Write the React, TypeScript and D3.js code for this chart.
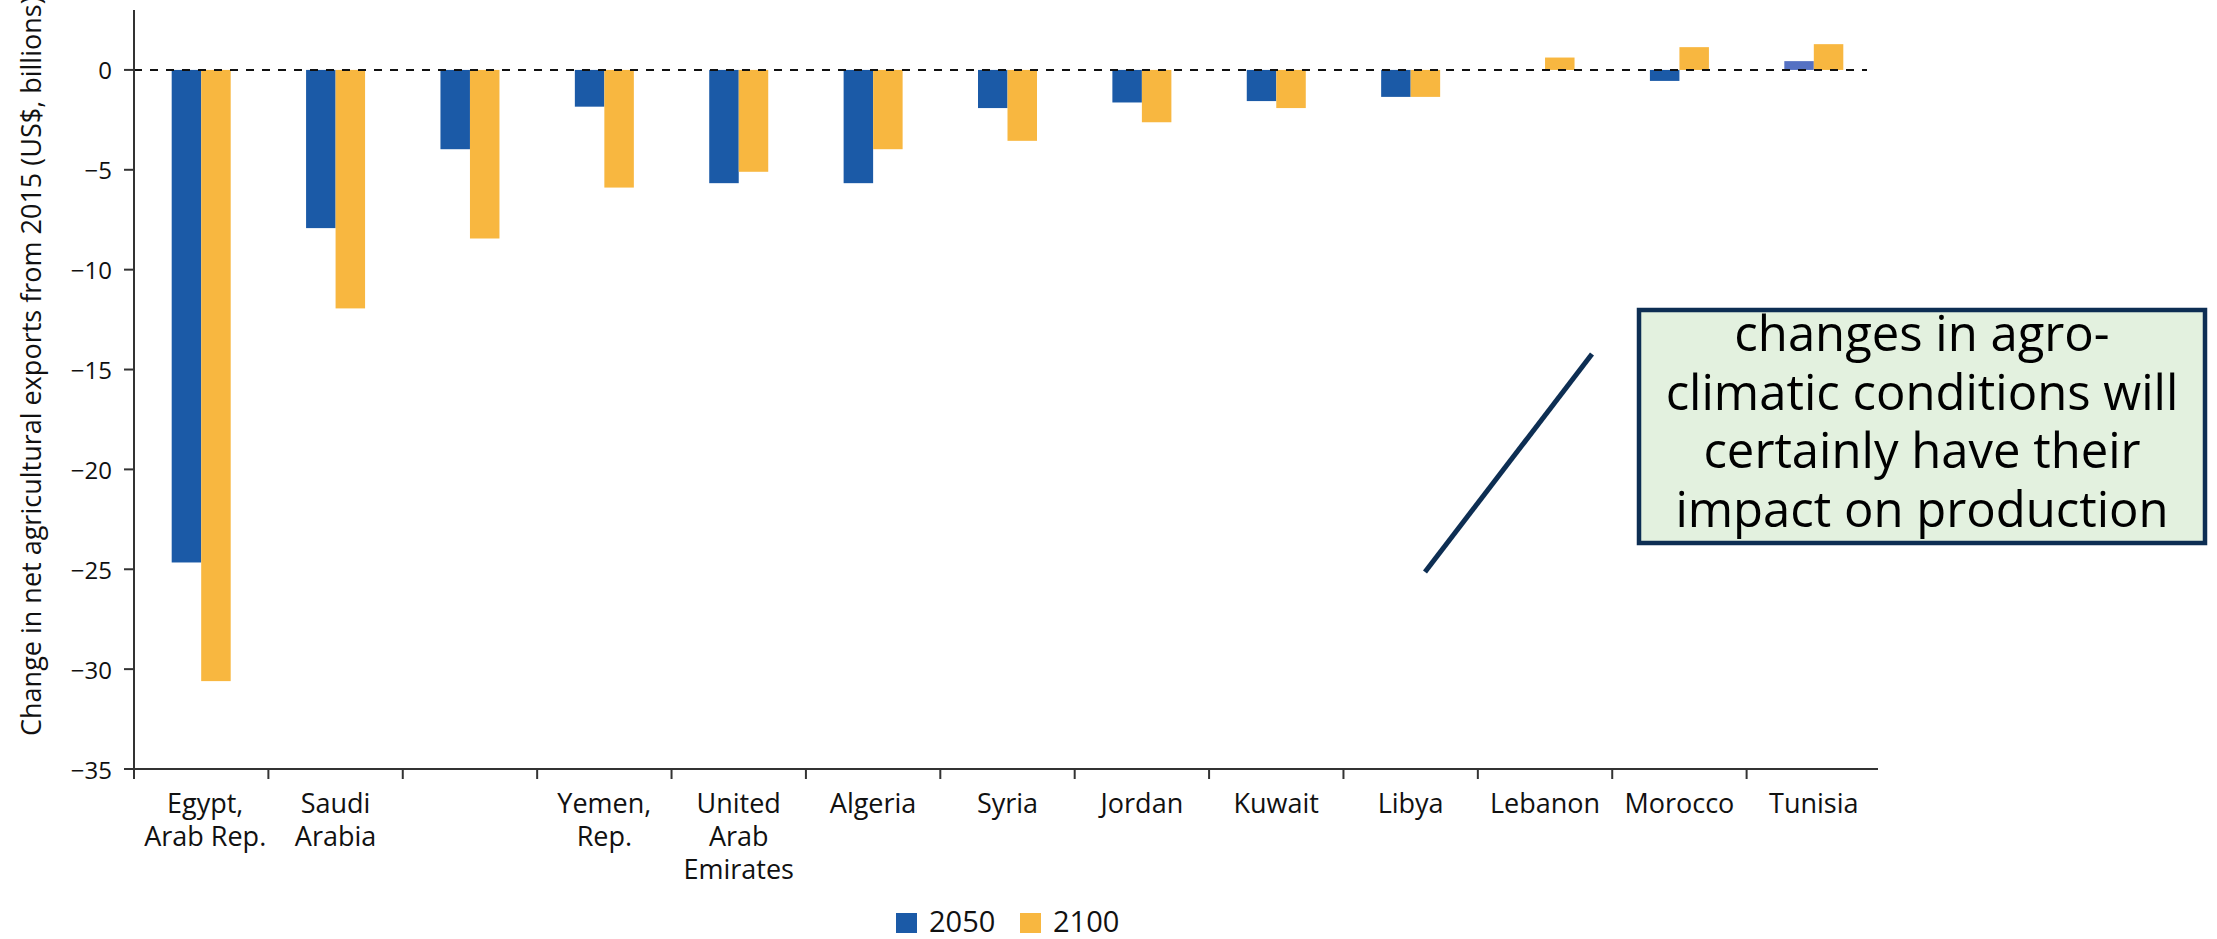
import React from "react";
import * as d3 from "d3";

const categories: string[][] = [
  ["Egypt,", "Arab Rep."],
  ["Saudi", "Arabia"],
  [""],
  ["Yemen,", "Rep."],
  ["United", "Arab", "Emirates"],
  ["Algeria"],
  ["Syria"],
  ["Jordan"],
  ["Kuwait"],
  ["Libya"],
  ["Lebanon"],
  ["Morocco"],
  ["Tunisia"],
];

const series = ["2050", "2100"];
const values2050 = [-24.66, -7.92, -3.97, -1.84, -5.67, -5.67, -1.91, -1.63, -1.56, -1.35, 0, -0.55, 0.44];
const values2100 = [-30.6, -11.94, -8.44, -5.89, -5.1, -3.97, -3.55, -2.62, -1.91, -1.35, 0.62, 1.14, 1.29];
const yTicks = [0, -5, -10, -15, -20, -25, -30, -35];

const calloutLines = [
  "changes in agro-",
  "climatic conditions will",
  "certainly have their",
  "impact on production",
];

const W = 2217;
const H = 939;
const BLUE = "#1b5aa7";
const BLUE_LIGHT = "#5571c3";
const ORANGE = "#f8b740";
const NAVY = "#0d2e53";
const FONT = "'Open Sans', 'Noto Sans', sans-serif";

export default function App() {
  const left = 134;
  const right = 1881;
  const top = 10;
  const bottom = 769;

  const keys = categories.map((_, i) => String(i));
  const x = d3.scaleBand<string>().domain(keys).range([left, right]).padding(0);
  const groupW = 59;
  const xInner = d3.scaleBand<string>().domain(series).range([0, groupW]).padding(0);
  const y = d3.scaleLinear().domain([-35, 3]).range([bottom, top]);
  const fmt = d3.format("d");

  const data = [values2050, values2100];
  const y0 = y(0);

  return (
    <svg
      width={W}
      height={H}
      style={{ position: "absolute", left: 0, top: 0, background: "#fff" }}
      fontFamily={FONT}
    >
      {/* bars */}
      {keys.map((k, i) => {
        const cx = (x(k) as number) + x.bandwidth() / 2;
        return series.map((s, j) => {
          const v = data[j][i];
          if (v === 0) return null;
          const yTop = Math.min(y(v), y0);
          const h = Math.abs(y(v) - y0);
          let fill = j === 0 ? BLUE : ORANGE;
          if (j === 0 && v > 0) fill = BLUE_LIGHT;
          return (
            <rect
              key={`${k}-${s}`}
              x={cx - groupW / 2 + (xInner(s) as number)}
              y={yTop}
              width={xInner.bandwidth()}
              height={h}
              fill={fill}
            />
          );
        });
      })}

      {/* zero reference line */}
      <line x1={left} x2={1867} y1={y0} y2={y0} stroke="#111" strokeWidth={2} strokeDasharray="8 8" />

      {/* y axis */}
      <line x1={left} x2={left} y1={top} y2={bottom} stroke="#333" strokeWidth={2} />
      {yTicks.map((t) => (
        <g key={t}>
          <line x1={left - 10} x2={left} y1={y(t)} y2={y(t)} stroke="#333" strokeWidth={2} />
          <text x={112} y={y(t)} textAnchor="end" dominantBaseline="central" fontSize={24} fill="#111">
            {fmt(t)}
          </text>
        </g>
      ))}
      <text
        transform={`translate(41,736) rotate(-90)`}
        textAnchor="start"
        fontSize={27}
        fill="#111"
      >
        Change in net agricultural exports from 2015 (US$, billions)
      </text>

      {/* x axis */}
      <line x1={left} x2={1878} y1={bottom} y2={bottom} stroke="#333" strokeWidth={2} />
      {keys.map((k, i) => {
        const bx = x(k) as number;
        const cx = bx + x.bandwidth() / 2;
        return (
          <g key={`x-${k}`}>
            <line x1={bx} x2={bx} y1={bottom} y2={bottom + 10} stroke="#333" strokeWidth={2} />
            <text textAnchor="middle" fontSize={27} fill="#111">
              {categories[i].map((line, li) => (
                <tspan key={li} x={cx + (i === 0 ? 4 : 0)} y={813 + li * 33}>
                  {line}
                </tspan>
              ))}
            </text>
          </g>
        );
      })}

      {/* legend */}
      <rect x={896} y={913} width={21} height={20} fill={BLUE} />
      <text x={929} y={932} fontSize={29} fill="#111">2050</text>
      <rect x={1020} y={913} width={21} height={20} fill={ORANGE} />
      <text x={1053} y={932} fontSize={29} fill="#111">2100</text>

      {/* callout */}
      <line x1={1425} y1={572} x2={1592} y2={354} stroke={NAVY} strokeWidth={5} />
      <rect x={1639} y={310} width={566} height={233} fill="#e3f1df" stroke={NAVY} strokeWidth={4.5} />
      {calloutLines.map((l, i) => (
        <text key={i} x={1922} y={351 + i * 58.5} textAnchor="middle" fontSize={49} fill="#000">
          {l}
        </text>
      ))}
    </svg>
  );
}
